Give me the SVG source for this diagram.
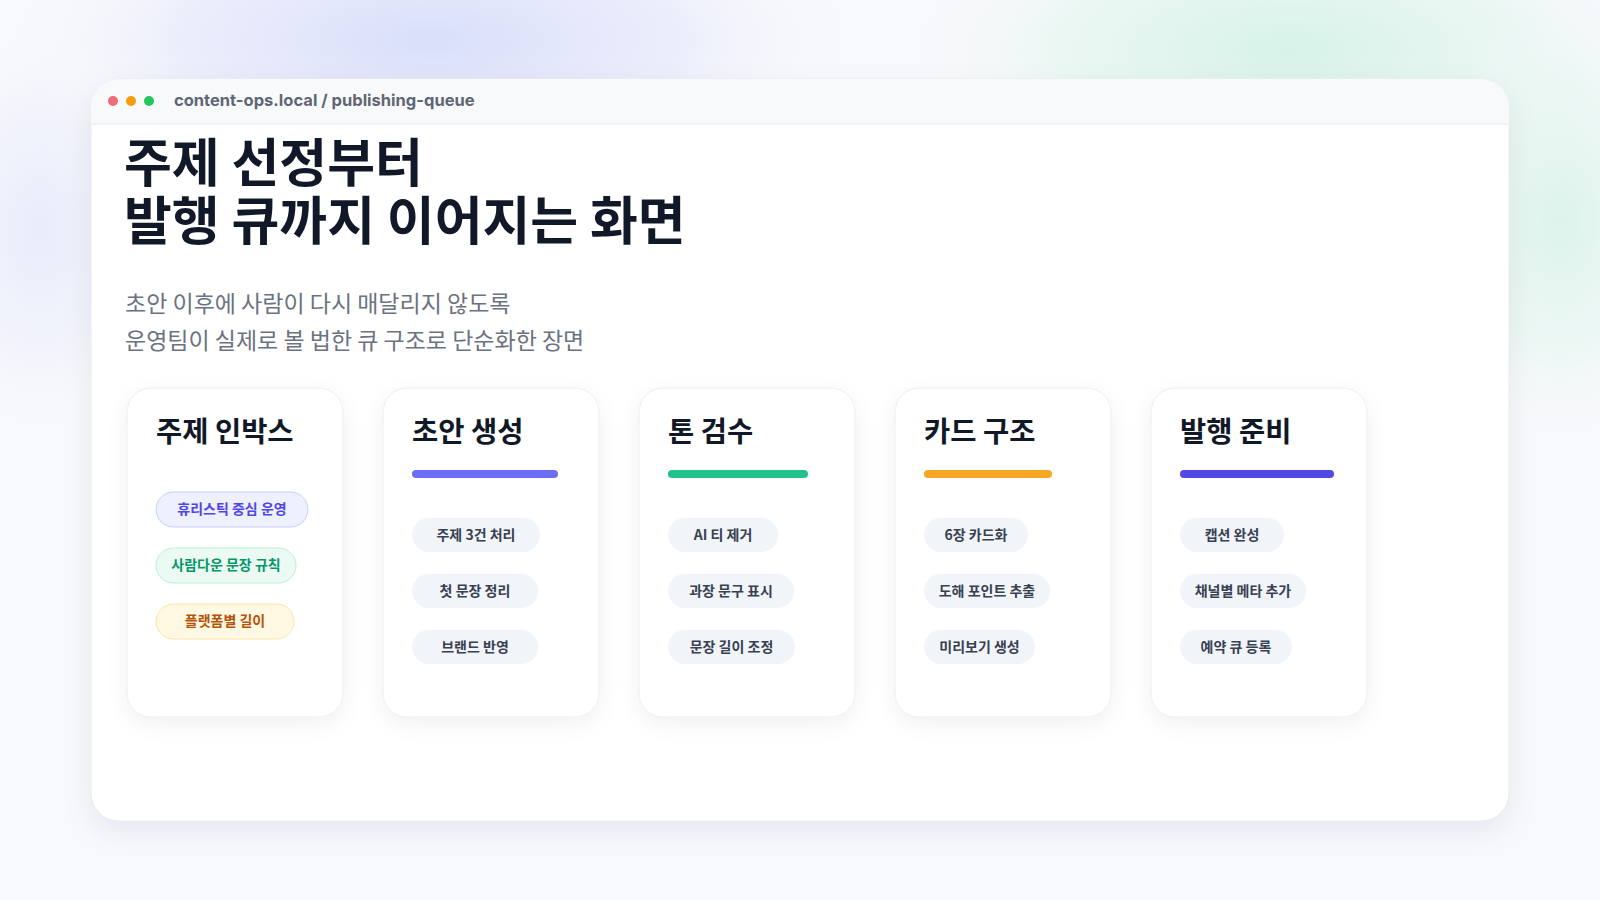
<svg xmlns="http://www.w3.org/2000/svg" width="1600" height="900" viewBox="0 0 1600 900">
  <defs>
    <radialGradient id="blobA" cx="0.5" cy="0.5" r="0.5">
      <stop offset="0" stop-color="#d9defa"/>
      <stop offset="0.6" stop-color="#e6e9fb" stop-opacity="0.7"/>
      <stop offset="1" stop-color="#f7f8fc" stop-opacity="0"/>
    </radialGradient>
    <radialGradient id="blobB" cx="0.5" cy="0.5" r="0.5">
      <stop offset="0" stop-color="#d6f2e8"/>
      <stop offset="0.6" stop-color="#e4f6ef" stop-opacity="0.7"/>
      <stop offset="1" stop-color="#f7f8fc" stop-opacity="0"/>
    </radialGradient>
    <filter id="winShadow" x="-10%" y="-10%" width="120%" height="125%">
      <feDropShadow dx="0" dy="10" stdDeviation="14" flood-color="#1e293b" flood-opacity="0.07"/>
    </filter>
    <filter id="cardShadow" x="-20%" y="-20%" width="140%" height="140%">
      <feDropShadow dx="0" dy="6" stdDeviation="10" flood-color="#1e293b" flood-opacity="0.06"/>
    </filter>
    <clipPath id="winClip">
      <rect x="91" y="79" width="1418" height="742" rx="28"/>
    </clipPath>
    <style>
      .ko { font-family: "Noto Sans CJK KR", "Noto Sans", sans-serif; }
      .title { font-size: 52px; font-weight: 700; fill: #111827; }
      .sub { font-size: 23px; font-weight: 400; fill: #6b7280; }
      .url { font-family: Inter, "Liberation Sans", Arial, sans-serif; font-size: 16.5px; font-weight: 700; fill: #5f6675; }
      .card { fill: #ffffff; stroke: #eceef2; stroke-width: 1; }
      .ctitle { font-size: 28.5px; font-weight: 700; fill: #111827; }
      .pill { fill: #f1f4f8; }
      .ptext { font-size: 14px; font-weight: 600; fill: #374151; text-anchor: middle; }
    </style>
  </defs>

  <!-- background -->
  <rect x="0" y="0" width="1600" height="900" fill="#f8f9fc"/>
  <ellipse cx="430" cy="40" rx="420" ry="150" fill="url(#blobA)"/>
  <ellipse cx="40" cy="230" rx="120" ry="200" fill="url(#blobA)" opacity="0.5"/>
  <ellipse cx="1290" cy="50" rx="380" ry="150" fill="url(#blobB)"/>
  <ellipse cx="1560" cy="220" rx="140" ry="220" fill="url(#blobB)" opacity="0.8"/>

  <!-- window -->
  <g id="window">
    <rect x="91" y="79" width="1418" height="742" rx="28" fill="#ffffff" stroke="#e8eaef" stroke-width="1" filter="url(#winShadow)"/>
    <g clip-path="url(#winClip)">
      <rect x="91" y="79" width="1418" height="45" fill="#f8f9fb"/>
      <line x1="91" y1="124" x2="1509" y2="124" stroke="#e6e8ee" stroke-width="1"/>
    </g>
    <circle cx="113" cy="101" r="5" fill="#f06a7a"/>
    <circle cx="131" cy="101" r="5" fill="#f59e0b"/>
    <circle cx="149" cy="101" r="5" fill="#22c55e"/>
    <text class="url" x="174" y="106">content-ops.local / publishing-queue</text>
  </g>

  <!-- heading -->
  <g id="heading">
    <text class="ko title" x="124" y="182">주제 선정부터</text>
    <text class="ko title" x="124" y="240">발행 큐까지 이어지는 화면</text>
    <text class="ko sub" x="125" y="312">초안 이후에 사람이 다시 매달리지 않도록</text>
    <text class="ko sub" x="125" y="349">운영팀이 실제로 볼 법한 큐 구조로 단순화한 장면</text>
  </g>

  <!-- card 1 -->
  <g id="card-inbox">
    <rect class="card" x="127" y="388" width="216" height="329" rx="24" filter="url(#cardShadow)"/>
    <text class="ko ctitle" x="156" y="442">주제 인박스</text>
    <rect x="156" y="492" width="152" height="35" rx="17.5" fill="#eef0fe" stroke="#c9cdf8" stroke-width="1"/>
    <text class="ko ptext" x="232" y="514" style="fill:#4f46e5">휴리스틱 중심 운영</text>
    <rect x="156" y="548" width="140" height="35" rx="17.5" fill="#ebfbf3" stroke="#bdf0d6" stroke-width="1"/>
    <text class="ko ptext" x="226" y="570" style="fill:#059669">사람다운 문장 규칙</text>
    <rect x="156" y="604" width="138" height="35" rx="17.5" fill="#fff8e3" stroke="#fce6a4" stroke-width="1"/>
    <text class="ko ptext" x="225" y="626" style="fill:#b45309">플랫폼별 길이</text>
  </g>

  <!-- card 2 -->
  <g id="card-draft">
    <rect class="card" x="383" y="388" width="216" height="329" rx="24" filter="url(#cardShadow)"/>
    <text class="ko ctitle" x="412" y="442">초안 생성</text>
    <rect x="412" y="470" width="146" height="8" rx="4" fill="#6c6ef5"/>
    <rect class="pill" x="412" y="518" width="128" height="34" rx="17"/>
    <text class="ko ptext" x="476" y="540">주제 3건 처리</text>
    <rect class="pill" x="412" y="574" width="126" height="34" rx="17"/>
    <text class="ko ptext" x="475" y="596">첫 문장 정리</text>
    <rect class="pill" x="412" y="630" width="126" height="34" rx="17"/>
    <text class="ko ptext" x="475" y="652">브랜드 반영</text>
  </g>

  <!-- card 3 -->
  <g id="card-tone">
    <rect class="card" x="639" y="388" width="216" height="329" rx="24" filter="url(#cardShadow)"/>
    <text class="ko ctitle" x="668" y="442">톤 검수</text>
    <rect x="668" y="470" width="140" height="8" rx="4" fill="#22c08a"/>
    <rect class="pill" x="668" y="518" width="110" height="34" rx="17"/>
    <text class="ko ptext" x="723" y="540">AI 티 제거</text>
    <rect class="pill" x="668" y="574" width="126" height="34" rx="17"/>
    <text class="ko ptext" x="731" y="596">과장 문구 표시</text>
    <rect class="pill" x="668" y="630" width="127" height="34" rx="17"/>
    <text class="ko ptext" x="731.5" y="652">문장 길이 조정</text>
  </g>

  <!-- card 4 -->
  <g id="card-structure">
    <rect class="card" x="895" y="388" width="216" height="329" rx="24" filter="url(#cardShadow)"/>
    <text class="ko ctitle" x="924" y="442">카드 구조</text>
    <rect x="924" y="470" width="128" height="8" rx="4" fill="#f5a623"/>
    <rect class="pill" x="924" y="518" width="104" height="34" rx="17"/>
    <text class="ko ptext" x="976" y="540">6장 카드화</text>
    <rect class="pill" x="924" y="574" width="126" height="34" rx="17"/>
    <text class="ko ptext" x="987" y="596">도해 포인트 추출</text>
    <rect class="pill" x="924" y="630" width="111" height="34" rx="17"/>
    <text class="ko ptext" x="979.5" y="652">미리보기 생성</text>
  </g>

  <!-- card 5 -->
  <g id="card-publish">
    <rect class="card" x="1151" y="388" width="216" height="329" rx="24" filter="url(#cardShadow)"/>
    <text class="ko ctitle" x="1180" y="442">발행 준비</text>
    <rect x="1180" y="470" width="154" height="8" rx="4" fill="#5149e4"/>
    <rect class="pill" x="1180" y="518" width="104" height="34" rx="17"/>
    <text class="ko ptext" x="1232" y="540">캡션 완성</text>
    <rect class="pill" x="1180" y="574" width="126" height="34" rx="17"/>
    <text class="ko ptext" x="1243" y="596">채널별 메타 추가</text>
    <rect class="pill" x="1180" y="630" width="112" height="34" rx="17"/>
    <text class="ko ptext" x="1236" y="652">예약 큐 등록</text>
  </g>

  <g id="connectors"></g>
</svg>
